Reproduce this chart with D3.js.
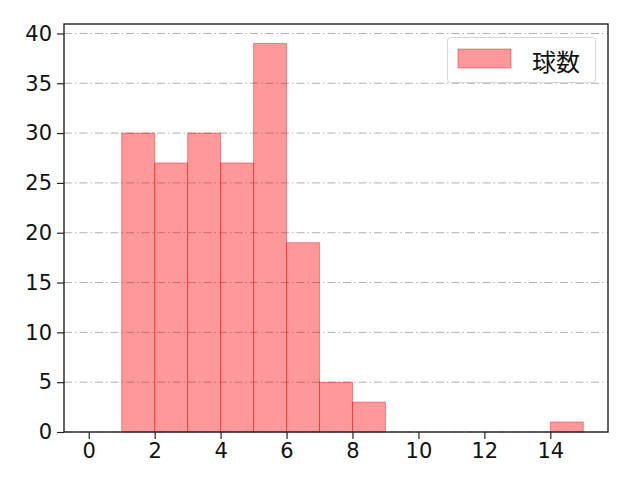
<!DOCTYPE html>
<html><head><meta charset="utf-8">
<script src="https://cdn.jsdelivr.net/npm/d3@7"></script>
<style>body{margin:0;background:#fff}svg{display:block}text{font-family:"Noto Sans CJK JP","Noto Sans",sans-serif}</style>
</head><body>
<script>
const binStarts = [1, 2, 3, 4, 5, 6, 7, 8, 14];
const counts = [30, 27, 30, 27, 39, 19, 5, 3, 1];
const binWidth = 1;
const xTicks = [0, 2, 4, 6, 8, 10, 12, 14];
const yTicks = [0, 5, 10, 15, 20, 25, 30, 35, 40];
const seriesName = "球数";

const W = 640, H = 480;
const m = {l: 64, r: 32, t: 24, b: 48};
const svg = d3.select("body").append("svg").attr("width", W).attr("height", H);
const x = d3.scaleLinear().domain([-0.75, 15.75]).range([m.l, W - m.r]);
const y = d3.scaleLinear().domain([0, 40.95]).range([H - m.b, m.t]);
const fs = 21;

// grid
svg.append("g").selectAll("line").data(yTicks).join("line")
  .attr("x1", m.l).attr("x2", W - m.r)
  .attr("y1", d => y(d)).attr("y2", d => y(d))
  .attr("stroke", "#b0b0b0").attr("stroke-width", 1)
  .attr("stroke-dasharray", "8,3,1.5,3");

// bars
const data = binStarts.map((s, i) => ({s, c: counts[i]}));
svg.append("g").selectAll("rect").data(data).join("rect")
  .attr("x", d => x(d.s)).attr("width", d => x(d.s + binWidth) - x(d.s))
  .attr("y", d => y(d.c)).attr("height", d => y(0) - y(d.c))
  .attr("fill", "red").attr("fill-opacity", 0.4)
  .attr("stroke", "red").attr("stroke-opacity", 0.4).attr("stroke-width", 1);

// axes
const xa = svg.append("g").attr("transform", `translate(0,${H - m.b})`)
  .call(d3.axisBottom(x).tickValues(xTicks).tickSize(7).tickPadding(4).tickFormat(d3.format("d")));
const ya = svg.append("g").attr("transform", `translate(${m.l},0)`)
  .call(d3.axisLeft(y).tickValues(yTicks).tickSize(7).tickPadding(5).tickFormat(d3.format("d")));
[xa, ya].forEach(a => {
  a.select(".domain").remove();
  a.selectAll(".tick line").attr("stroke", "#222").attr("stroke-width", 1.2);
  a.selectAll(".tick text").style("font-size", fs + "px").attr("fill", "#111")
    .style("font-family", '"DejaVu Sans",sans-serif');
});

// frame
svg.append("rect").attr("x", m.l).attr("y", m.t)
  .attr("width", W - m.r - m.l).attr("height", H - m.b - m.t)
  .attr("fill", "none").attr("stroke", "#222").attr("stroke-width", 1.4);

// legend
const lg = svg.append("g");
lg.append("rect").attr("x", 447.5).attr("y", 37.5).attr("width", 148).attr("height", 45)
  .attr("rx", 3).attr("fill", "#fff").attr("fill-opacity", 0.8)
  .attr("stroke", "#d6d6d6").attr("stroke-width", 1);
lg.append("rect").attr("x", 458).attr("y", 49).attr("width", 53).attr("height", 19)
  .attr("fill", "red").attr("fill-opacity", 0.4)
  .attr("stroke", "red").attr("stroke-opacity", 0.4);
lg.append("text").attr("x", 532).attr("y", 60).attr("dominant-baseline", "central")
  .style("font-size", "24px").attr("fill", "#111").text(seriesName);
</script>
</body></html>
